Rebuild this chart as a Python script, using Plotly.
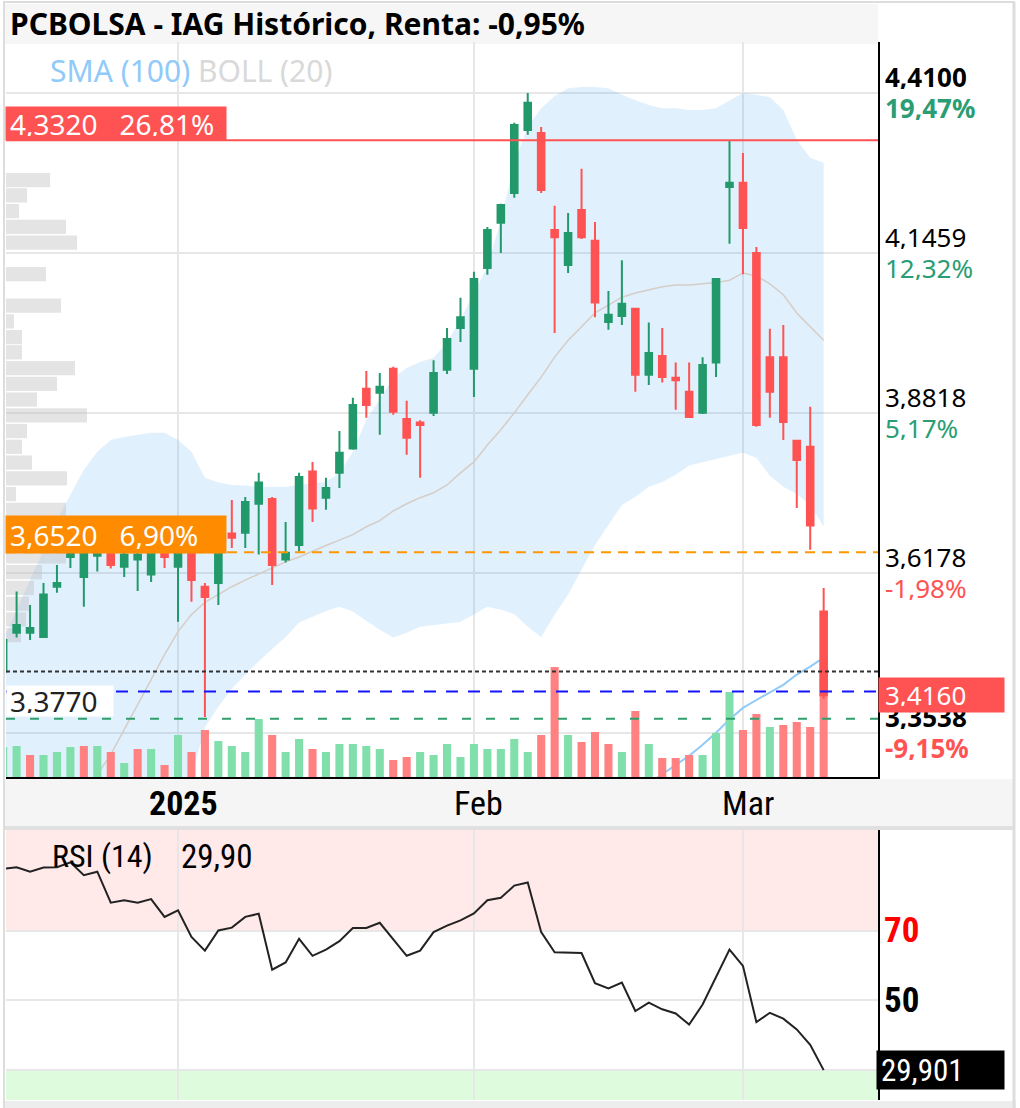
import plotly.graph_objects as go

# ---------------- DATA ----------------
dates = ["2024-12-11","2024-12-12","2024-12-13","2024-12-16","2024-12-17","2024-12-18","2024-12-19",
         "2024-12-20","2024-12-23","2024-12-24","2024-12-27","2024-12-30","2024-12-31",
         "2025-01-02","2025-01-03","2025-01-06","2025-01-07","2025-01-08","2025-01-09","2025-01-10",
         "2025-01-13","2025-01-14","2025-01-15","2025-01-16","2025-01-17","2025-01-20","2025-01-21",
         "2025-01-22","2025-01-23","2025-01-24","2025-01-27","2025-01-28","2025-01-29","2025-01-30","2025-01-31",
         "2025-02-03","2025-02-04","2025-02-05","2025-02-06","2025-02-07","2025-02-10","2025-02-11",
         "2025-02-12","2025-02-13","2025-02-14","2025-02-17","2025-02-18","2025-02-19","2025-02-20",
         "2025-02-21","2025-02-24","2025-02-25","2025-02-26","2025-02-27","2025-02-28",
         "2025-03-03","2025-03-04","2025-03-05","2025-03-06","2025-03-07","2025-03-10","2025-03-11"]

open_p = [3.455,3.519,3.519,3.512,3.595,3.644,3.611,3.646,3.656,3.628,3.640,3.615,3.653,
          3.628,3.656,3.595,3.601,3.683,3.684,3.732,3.740,3.640,3.664,3.785,3.742,3.783,3.823,3.922,3.915,3.955,3.872,3.866,3.882,3.953,4.022,
          3.955,4.121,4.196,4.245,4.349,4.344,4.184,4.126,4.217,4.166,4.032,4.042,4.054,3.945,3.976,3.940,3.917,3.882,3.965,4.255,
          4.262,4.146,3.974,3.974,3.836,3.826,3.554]
high_p = [3.520,3.587,3.565,3.601,3.631,3.664,3.664,3.664,3.664,3.656,3.660,3.664,3.659,
          3.664,3.664,3.601,3.659,3.738,3.743,3.783,3.743,3.702,3.783,3.801,3.775,3.852,3.907,3.951,3.948,3.958,3.902,3.870,3.969,4.022,4.072,
          4.115,4.189,4.227,4.361,4.410,4.354,4.224,4.212,4.285,4.197,4.083,4.134,4.054,4.031,4.022,3.965,3.965,3.974,4.103,4.331,
          4.311,4.156,4.021,4.027,3.837,3.892,3.593]
low_p = [3.440,3.511,3.507,3.511,3.585,3.626,3.562,3.620,3.625,3.611,3.588,3.603,3.626,
         3.537,3.570,3.380,3.565,3.659,3.659,3.648,3.598,3.635,3.653,3.702,3.722,3.758,3.821,3.874,3.846,3.879,3.813,3.775,3.877,3.946,3.999,
         3.908,4.110,4.146,4.237,4.341,4.245,4.014,4.113,4.169,4.040,4.019,4.027,3.917,3.928,3.932,3.887,3.874,3.880,3.941,4.161,
         4.111,3.859,3.874,3.837,3.725,3.656,3.410]
close_p = [3.507,3.532,3.527,3.582,3.601,3.656,3.656,3.653,3.631,3.648,3.648,3.656,3.644,
           3.656,3.606,3.578,3.656,3.676,3.735,3.767,3.631,3.651,3.776,3.724,3.758,3.816,3.895,3.895,3.925,3.884,3.841,3.862,3.948,4.004,4.040,
           4.103,4.184,4.225,4.357,4.394,4.250,4.172,4.179,4.172,4.064,4.044,4.062,3.945,3.981,3.941,3.936,3.875,3.961,4.103,4.262,
           4.187,3.862,3.917,3.867,3.804,3.696,3.416]

volume_m = [15,15.5,11,11,12.5,15,15.5,15.5,12.5,7,14,14,6,
            21,12.5,23.5,18,15.5,12.5,29,21,12.5,19,14,12.5,16.5,16.5,15.5,14,8.5,10,12.5,11,16.5,10,
            16.5,14,14,19,12.5,21,55,21,17.5,22.5,16.5,12.5,33,16.5,9.5,9.5,11,11,22,42.5,
            23.5,31.5,25,26,27.5,25,57.5]
volume_dir = ['u','u','d','u','u','u','d','u','d','u','d','u','d',
              'u','d','d','u','u','u','u','d','u','u','d','u','u','u','u','u','d','d','u','u','u','u',
              'u','u','u','u','u','d','d','u','d','d','d','u','d','u','d','d','d','u','u','u',
              'd','d','u','d','d','d','d']

boll_upper = [3.507,3.557,3.606,3.656,3.705,3.747,3.788,3.818,3.837,3.842,3.846,3.849,3.849,
              3.837,3.818,3.775,3.767,3.763,3.762,3.760,3.760,3.760,3.763,3.765,3.768,3.783,3.818,3.871,3.904,3.940,3.956,3.966,3.973,3.998,4.036,
              4.080,4.123,4.200,4.295,4.354,4.385,4.405,4.418,4.420,4.420,4.418,4.407,4.398,4.390,4.385,4.385,4.382,4.382,4.385,4.398,
              4.410,4.407,4.403,4.382,4.333,4.303,4.295]
boll_mid = [3.078,3.111,3.144,3.177,3.210,3.243,3.263,3.285,3.318,3.359,3.399,3.441,3.483,
            3.521,3.549,3.569,3.582,3.595,3.606,3.616,3.626,3.636,3.644,3.654,3.663,3.672,3.681,3.694,3.704,3.720,3.732,3.742,3.750,3.763,3.783,
            3.801,3.829,3.854,3.882,3.912,3.941,3.974,4.002,4.024,4.047,4.060,4.073,4.080,4.085,4.090,4.093,4.093,4.095,4.097,4.101,
            4.113,4.108,4.095,4.077,4.047,4.024,4.002]
boll_lower = [2.65,2.67,2.68,2.70,2.72,2.74,2.74,2.75,2.80,2.88,2.95,3.03,3.12,
              3.21,3.28,3.363,3.397,3.427,3.450,3.472,3.492,3.512,3.536,3.545,3.555,3.562,3.554,3.539,3.524,3.511,3.519,3.529,3.532,3.534,3.537,
              3.549,3.562,3.557,3.550,3.529,3.512,3.549,3.582,3.623,3.664,3.697,3.730,3.743,3.760,3.768,3.780,3.795,3.801,3.806,3.811,
              3.816,3.808,3.778,3.760,3.748,3.730,3.694]

sma100_dates = dates[43:]
sma100 = [3.190,3.207,3.224,3.240,3.255,3.270,3.285,3.301,3.316,3.334,3.354,3.376,3.395,3.408,3.420,3.433,3.450,3.463,3.478]

rsi = [87.8,88.3,87.0,88.2,88.3,89.7,86.0,87.0,78.1,78.8,78.1,79.1,74.0,
       75.9,68.2,64.3,70.1,70.9,74.0,74.9,58.8,60.9,67.7,62.8,64.6,67.0,70.8,70.8,72.3,67.5,62.8,64.3,69.6,71.5,73.0,
       75.0,78.8,79.5,83.0,83.9,69.6,63.8,63.8,63.6,54.9,53.4,55.1,46.9,49.3,47.4,46.2,43.0,48.8,56.5,64.6,
       59.9,43.7,46.4,44.7,41.6,37.2,29.9]

vp_price = [4.266,4.241,4.215,4.189,4.163,4.111,4.059,4.033,4.007,3.982,3.956,3.930,3.904,3.878,3.852,
            3.826,3.800,3.774,3.748,3.722,3.697,3.671,3.645,3.619,3.593,3.567,3.541,3.515]
vp_volume = [22,10.5,6.5,30,35.5,20,27.5,4,8,8,34.5,25.5,15.5,40.5,10.5,
             8,13,30.5,5,30,45,50,30,18,14,11.5,10,7.5]

x_tick_dates = ["2025-01-02", "2025-02-03", "2025-03-03"]
x_tick_text = ["<b>2025</b>", "Feb", "Mar"]
price_ticks = [4.4100, 4.1459, 3.8818, 3.6178, 3.3537]
price_tick_text = ["4,4100", "4,1459", "3,8818", "3,6178", "3,3538"]
price_tick_pct = ["19,47%", "12,32%", "5,17%", "-1,98%", "-9,15%"]
rsi_ticks = [30, 50, 70]

lvl_max, lvl_max_txt = 4.332, "4,3320\u00a0\u00a0\u00a026,81%"
lvl_orange, lvl_orange_txt = 3.652, "3,6520\u00a0\u00a0\u00a06,90%"
lvl_black = 3.455
lvl_blue = 3.422
lvl_green, lvl_green_txt = 3.377, "3,3770"
last_price, last_price_txt = 3.416, "3,4160"
rsi_last_txt = "29,901"

for arr in (open_p, high_p, low_p, close_p, volume_m, volume_dir, boll_upper, boll_mid, boll_lower, rsi):
    assert len(arr) == len(dates), len(arr)
assert len(vp_price) == len(vp_volume)

# ---------------- LAYOUT GEOMETRY ----------------
W, H = 1020, 1108
def fx(px): return px / W
def fy(py): return 1 - py / H

X_DOM = [fx(6), fx(878)]
x_range = [0.212, 65.04]
price_range = [3.2809, 4.4942]
vol_range = [0, 367.5]
vp_range = [0, 436]
rsi_range = [21.3, 99]

GREEN = '#22996b'
RED = '#ff5252'
VGREEN = '#80dfab'
VRED = '#ff8181'
PCT_GREEN = '#2a9d74'
GRID = '#e7e7e7'
SANS = 'Noto Sans, Open Sans, sans-serif'
NARROW = 'Liberation Sans Narrow, Roboto Condensed, Roboto, sans-serif'

fig = go.Figure()

# Bollinger band
fig.add_trace(go.Scatter(x=dates, y=boll_upper, mode='lines', line=dict(width=0, color='rgba(0,0,0,0)'),
                         xaxis='x', yaxis='y', hoverinfo='skip', showlegend=False))
fig.add_trace(go.Scatter(x=dates, y=boll_lower, mode='lines', line=dict(width=0, color='rgba(0,0,0,0)'),
                         fill='tonexty', fillcolor='rgba(33,150,243,0.14)',
                         xaxis='x', yaxis='y', hoverinfo='skip', showlegend=False))
fig.add_trace(go.Scatter(x=dates, y=boll_mid, mode='lines', line=dict(width=1.5, color='#d5cdc6'),
                         xaxis='x', yaxis='y', showlegend=False))
fig.add_trace(go.Scatter(x=sma100_dates, y=sma100, mode='lines', line=dict(width=2, color='#90caf9'),
                         xaxis='x', yaxis='y', showlegend=False))

# Volume
fig.add_trace(go.Bar(x=dates, y=volume_m, xaxis='x', yaxis='y2', width=0.6,
                     marker=dict(color=[VGREEN if d == 'u' else VRED for d in volume_dir], line=dict(width=0)),
                     showlegend=False))

# Volume profile
fig.add_trace(go.Bar(x=vp_volume, y=vp_price, orientation='h', xaxis='x2', yaxis='y', width=0.0235,
                     marker=dict(color='rgba(190,190,190,0.42)', line=dict(width=0)), showlegend=False))

# Candles
fig.add_trace(go.Candlestick(x=dates, open=open_p, high=high_p, low=low_p, close=close_p,
                             xaxis='x3', yaxis='y',
                             increasing=dict(line=dict(color=GREEN, width=2), fillcolor=GREEN),
                             decreasing=dict(line=dict(color=RED, width=2), fillcolor=RED),
                             showlegend=False))

# RSI
fig.add_trace(go.Scatter(x=dates, y=rsi, mode='lines', line=dict(width=2, color='#222222'),
                         xaxis='x4', yaxis='y4', showlegend=False))

shapes = []
# frame / bands (paper)
shapes.append(dict(type='rect', xref='paper', yref='paper', x0=fx(5), x1=fx(878), y0=fy(44), y1=fy(4),
                   fillcolor='#f6f6f6', line=dict(width=0), layer='below'))
shapes.append(dict(type='rect', xref='paper', yref='paper', x0=fx(5), x1=fx(1013), y0=fy(826), y1=fy(779),
                   fillcolor='#f5f5f5', line=dict(width=0), layer='below'))
shapes.append(dict(type='rect', xref='paper', yref='paper', x0=fx(5), x1=fx(1013), y0=fy(830), y1=fy(826),
                   fillcolor='#e0e0e0', line=dict(width=0), layer='below'))
shapes.append(dict(type='rect', xref='paper', yref='paper', x0=fx(3), x1=fx(1016), y0=fy(1108), y1=fy(1101),
                   fillcolor='#ededed', line=dict(width=0), layer='below'))
shapes.append(dict(type='line', xref='paper', yref='paper', x0=fx(4), x1=fx(4), y0=0, y1=fy(2),
                   line=dict(color='#dddddd', width=2), layer='below'))
shapes.append(dict(type='line', xref='paper', yref='paper', x0=fx(1014), x1=fx(1014), y0=0, y1=fy(2),
                   line=dict(color='#dddddd', width=3), layer='below'))
shapes.append(dict(type='line', xref='paper', yref='paper', x0=fx(3), x1=fx(1015), y0=fy(2), y1=fy(2),
                   line=dict(color='#dddddd', width=2), layer='below'))
# RSI zones
shapes.append(dict(type='rect', xref='x4 domain', yref='y4', x0=0, x1=1, y0=70, y1=rsi_range[1],
                   fillcolor='#ffe9e9', line=dict(width=0), layer='below'))
shapes.append(dict(type='rect', xref='x4 domain', yref='y4', x0=0, x1=1, y0=rsi_range[0], y1=30,
                   fillcolor='#defbde', line=dict(width=0), layer='below'))
# price levels
shapes.append(dict(type='line', xref='x domain', yref='y', x0=0, x1=1, y0=lvl_max, y1=lvl_max,
                   line=dict(color=RED, width=2), layer='above'))
shapes.append(dict(type='line', xref='x domain', yref='y', x0=0, x1=1, y0=lvl_orange, y1=lvl_orange,
                   line=dict(color='#ff9800', width=2, dash='10px,7px'), layer='above'))
shapes.append(dict(type='line', xref='x domain', yref='y', x0=0, x1=1, y0=lvl_black, y1=lvl_black,
                   line=dict(color='#333333', width=2, dash='4px,3px'), layer='above'))
shapes.append(dict(type='line', xref='x domain', yref='y', x0=0, x1=1, y0=lvl_blue, y1=lvl_blue,
                   line=dict(color='#1414ff', width=2, dash='12px,10px'), layer='above'))
shapes.append(dict(type='line', xref='x domain', yref='y', x0=0, x1=1, y0=lvl_green, y1=lvl_green,
                   line=dict(color='#2e9e6e', width=2, dash='9px,15px'), layer='above'))

ann = []
ann.append(dict(xref='paper', yref='paper', x=fx(8), y=fy(24), xanchor='left', yanchor='middle',
                text='<b>PCBOLSA - IAG Histórico, Renta: -0,95%</b>', showarrow=False,
                font=dict(family=SANS, size=30, color='black')))
ann.append(dict(xref='paper', yref='paper', x=fx(48), y=fy(70), xanchor='left', yanchor='middle',
                text='<span style="color:#90caf9">SMA (100)</span> <span style="color:#d9d9d9">BOLL (20)</span>',
                showarrow=False, font=dict(family=SANS, size=30)))
# left level boxes
ann.append(dict(xref='paper', yref='y', x=fx(5), y=lvl_max, xanchor='left', yanchor='bottom', yshift=-1,
                text=lvl_max_txt, showarrow=False, align='left', width=212, height=25, borderpad=4,
                bgcolor=RED, font=dict(family=SANS, size=28, color='white')))
ann.append(dict(xref='paper', yref='y', x=fx(5), y=lvl_orange, xanchor='left', yanchor='bottom', yshift=-2,
                text=lvl_orange_txt, showarrow=False, align='left', width=212, height=29, borderpad=4,
                bgcolor='#ff8c00', font=dict(family=SANS, size=28, color='white')))
ann.append(dict(xref='paper', yref='y', x=fx(6), y=lvl_green, xanchor='left', yanchor='bottom', yshift=2,
                text=lvl_green_txt, showarrow=False, align='left', width=100, height=24, borderpad=3,
                bgcolor='white', font=dict(family=SANS, size=28, color='#222222')))
# right price labels
for i, (pv, t, pc) in enumerate(zip(price_ticks, price_tick_text, price_tick_pct)):
    bold = (i == 0 or i == len(price_ticks) - 1)
    col = PCT_GREEN if not pc.startswith('-') else RED
    ann.append(dict(xref='paper', yref='y', x=fx(883), y=pv, xanchor='left', yanchor='bottom', yshift=2,
                    text=('<b>%s</b>' % t) if bold else t, showarrow=False, height=24, valign='middle',
                    font=dict(family=SANS, size=26, color='black')))
    ann.append(dict(xref='paper', yref='y', x=fx(883), y=pv, xanchor='left', yanchor='top', yshift=-1,
                    text=('<b>%s</b>' % pc) if bold else pc, showarrow=False, height=24, valign='middle',
                    font=dict(family=SANS, size=26, color=col)))
ann.append(dict(xref='paper', yref='y', x=fx(878), y=last_price, xanchor='left', yanchor='middle',
                text=last_price_txt, showarrow=False, align='left', width=113, height=22, borderpad=6,
                bgcolor=RED, font=dict(family=SANS, size=26, color='white')))
# x labels
for d, t in zip(x_tick_dates, x_tick_text):
    ann.append(dict(xref='x', yref='paper', x=d, y=fy(803), xanchor='center', yanchor='middle', xshift=5,
                    text=t, showarrow=False, font=dict(family=NARROW, size=34, color='black')))
# RSI labels
ann.append(dict(xref='paper', yref='paper', x=fx(50), y=fy(856), xanchor='left', yanchor='middle',
                text='RSI (14)', showarrow=False, font=dict(family=NARROW, size=32, color='black')))
ann.append(dict(xref='paper', yref='paper', x=fx(179), y=fy(856), xanchor='left', yanchor='middle',
                text='29,90', showarrow=False, font=dict(family=NARROW, size=33, color='black')))
ann.append(dict(xref='paper', yref='y4', x=fx(882), y=70, xanchor='left', yanchor='middle',
                text='<b>70</b>', showarrow=False, font=dict(family=NARROW, size=35, color='#ff0000')))
ann.append(dict(xref='paper', yref='y4', x=fx(882), y=50, xanchor='left', yanchor='middle',
                text='<b>50</b>', showarrow=False, font=dict(family=NARROW, size=35, color='black')))
ann.append(dict(xref='paper', yref='y4', x=fx(876), y=rsi[-1], xanchor='left', yanchor='middle',
                text=rsi_last_txt, showarrow=False, align='left', width=119, height=30, borderpad=4,
                bgcolor='black', font=dict(family=NARROW, size=31, color='white')))

cat = dict(type='category', categoryorder='array', categoryarray=dates)

fig.update_layout(
    width=W, height=H, margin=dict(l=0, r=0, t=0, b=0),
    paper_bgcolor='white', plot_bgcolor='rgba(0,0,0,0)',
    showlegend=False, hovermode=False,
    shapes=shapes, annotations=ann,
    xaxis=dict(domain=X_DOM, range=x_range, anchor='y', tickmode='array', tickvals=x_tick_dates,
               showticklabels=False, ticks='', showgrid=True, gridcolor=GRID, gridwidth=2,
               showline=True, linecolor='black', linewidth=2, zeroline=False,
               rangeslider=dict(visible=False), **cat),
    yaxis=dict(domain=[fy(777), fy(42)], range=price_range, anchor='x', side='right',
               tickmode='array', tickvals=price_ticks, showticklabels=False, ticks='',
               showgrid=True, gridcolor=GRID, gridwidth=2, showline=True, linecolor='black',
               linewidth=2, zeroline=False),
    yaxis2=dict(overlaying='y', range=vol_range, anchor='x', visible=False, showgrid=False, zeroline=False),
    xaxis2=dict(overlaying='x', type='linear', range=vp_range, anchor='y', visible=False,
                showgrid=False, zeroline=False),
    xaxis3=dict(overlaying='x', range=x_range, anchor='y', visible=False, showgrid=False,
                rangeslider=dict(visible=False), **cat),
    xaxis4=dict(domain=X_DOM, range=x_range, anchor='y4', tickmode='array', tickvals=x_tick_dates,
                showticklabels=False, ticks='', showgrid=True, gridcolor=GRID, gridwidth=2,
                showline=False, zeroline=False, rangeslider=dict(visible=False), **cat),
    yaxis4=dict(domain=[fy(1100), fy(830)], range=rsi_range, anchor='x4', side='right',
                tickmode='array', tickvals=rsi_ticks, showticklabels=False, ticks='',
                showgrid=True, gridcolor=GRID, gridwidth=2, showline=True, linecolor='black',
                linewidth=2, zeroline=False),
)

fig.write_html("out.html")
